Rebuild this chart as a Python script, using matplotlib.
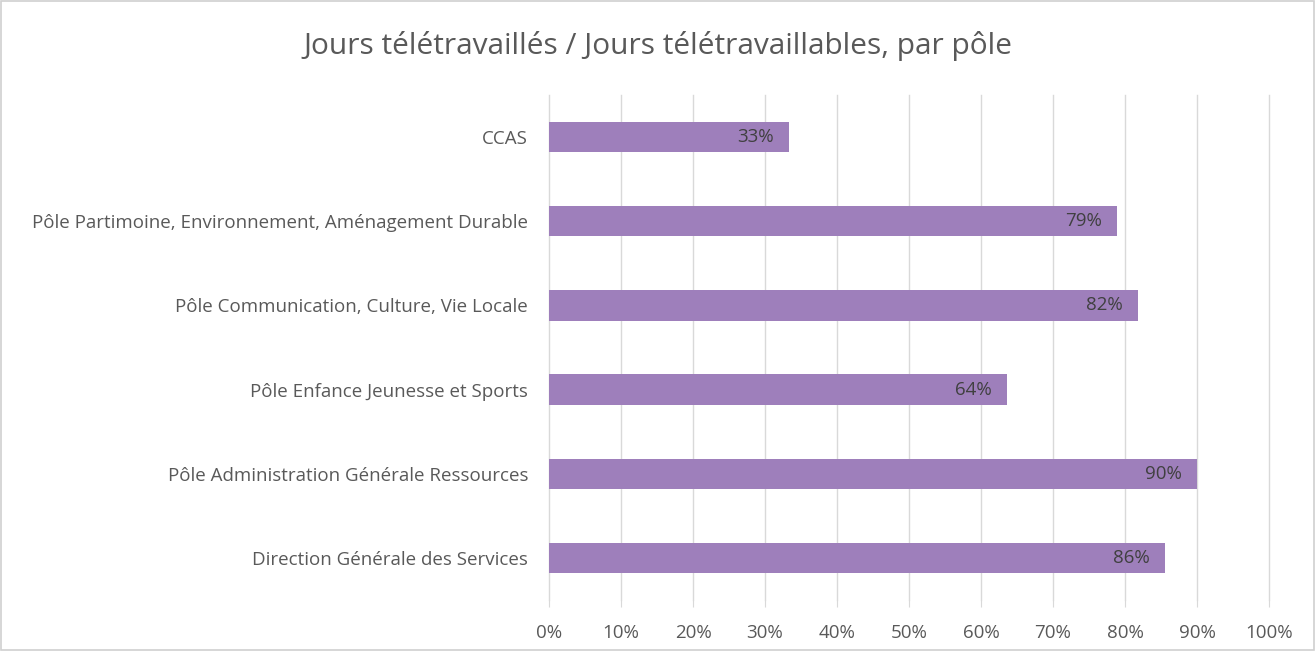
import matplotlib.pyplot as plt
from matplotlib.ticker import PercentFormatter, MultipleLocator

poles = ["Direction Générale des Services",
         "Pôle Administration Générale Ressources",
         "Pôle Enfance Jeunesse et Sports",
         "Pôle Communication, Culture, Vie Locale",
         "Pôle Partimoine, Environnement, Aménagement Durable",
         "CCAS"]
taux = [85.6, 90.0, 63.6, 81.8, 78.9, 33.3]
labels = ["86%", "90%", "64%", "82%", "79%", "33%"]

txt = "#595959"
plt.rcParams['font.family'] = ['Open Sans', 'DejaVu Sans']

fig = plt.figure(figsize=(13.15, 6.51), dpi=100)
ax = fig.add_axes([549/1315, 1-600/651, 720/1315, 505/651])

y = range(len(poles))
ax.barh(y, taux, height=0.36, color="#9e7fbb", zorder=3)
for i, v in enumerate(taux):
    ax.annotate(labels[i], (v, i), xytext=(-11, 0), textcoords="offset points",
                ha="right", va="center", fontsize=13.5, color="#404040", zorder=4)

ax.set_xlim(0, 100)
ax.set_ylim(-0.5, len(poles) - 0.5)
ax.xaxis.set_major_locator(MultipleLocator(10))
ax.xaxis.set_major_formatter(PercentFormatter(decimals=0))
ax.set_yticks(list(y))
ax.set_yticklabels(poles)
ax.grid(axis="x", color="#d9d9d9", linewidth=1, zorder=0)
for g in ax.get_xgridlines():
    g.set_clip_on(False)
for s in ax.spines.values():
    s.set_visible(False)
ax.tick_params(axis="x", colors="#d9d9d9", length=5, labelcolor=txt, labelsize=13.5, pad=12)
ax.tick_params(axis="y", length=0, labelcolor=txt, labelsize=13.5, pad=15)

fig.text(0.5, 1 - 46/651, "Jours télétravaillés / Jours télétravaillables, par pôle",
         ha="center", va="center", fontsize=21.5, color=txt)

fig.patches.append(plt.Rectangle((0.001, 0.001), 0.998, 0.997, transform=fig.transFigure,
                                 fill=False, edgecolor="#d0d0d0", linewidth=1.2))

fig.savefig("out.png", dpi=100)
